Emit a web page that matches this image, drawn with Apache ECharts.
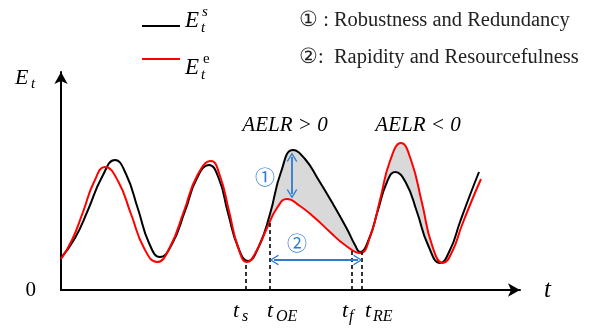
<!DOCTYPE html>
<html>
<head>
<meta charset="utf-8">
<script src="https://cdn.jsdelivr.net/npm/echarts@6/dist/echarts.min.js"></script>
<style>html,body{margin:0;background:#fff}#main{width:603px;height:328px}</style>
</head>
<body>
<div id="main"></div>
<script>
var SERIF = "'Liberation Serif', 'Times New Roman', serif";
var CIRC = "'Noto Sans CJK SC', 'DejaVu Sans', sans-serif";
var BLUE = '#2E7BCF';
var SMOOTH = 0.5;

// E_t^s (black): time and energy
var blackT = [0, 14, 27, 41, 54, 65, 77, 88, 99, 111, 124, 136, 148, 158, 167, 177, 187,
    198, 209, 220, 232, 244, 257, 272, 286, 294, 299, 308, 317, 326, 334, 345, 356, 367, 379,
    389, 399, 409, 418];
var blackE = [32, 52, 80, 113, 130, 116, 81, 47, 33, 46, 79, 112, 125, 111, 77, 43, 29,
    44, 76, 118, 140, 131, 111, 86, 61, 45, 38, 51, 80, 108, 118, 107, 78, 45, 27,
    40, 68, 95, 118];
// E_t^e (red)
var redT = [0, 11, 22, 33, 44, 57, 70, 83, 96, 109, 123, 136, 150, 159, 168, 177, 186,
    196, 206, 216, 226, 239, 254, 269, 284, 299, 309, 319, 329, 340, 350, 361, 371, 382,
    391, 401, 411, 420];
var redE = [31, 50, 78, 108, 123, 109, 76, 42, 28, 43, 79, 114, 129, 114, 79, 43, 28,
    40, 62, 82, 91, 84, 72, 58, 45, 37, 53, 90, 129, 147, 130, 87, 45, 27,
    38, 65, 90, 111];

// grey gaps: AELR > 0 (black over red), then AELR < 0 (red over black)
var gapOne = [209, 299];
var gapTwo = [309, 382];

// event times t_s, t_OE, t_f, t_RE and where their dashed guides stop
var eventT = [185, 209, 291, 301];
var eventTopE = [28, 70, 42, 38];

// arrows: (1) robustness gap, (2) rapidity span
var arrowOne = [[231, 133], [231, 96]];
var arrowTwo = [[213, 30], [297, 30]];

function zip(ts, es) { return ts.map(function (t, i) { return [t, es[i]]; }); }
var black = zip(blackT, blackE);
var red = zip(redT, redE);

// points of a curve inside [from, to], widened by `pad` neighbours
function part(pts, range, pad) {
    var i0 = pts.findIndex(function (p) { return p[0] >= range[0]; });
    var i1 = pts.length - 1;
    for (var k = pts.length - 1; k >= 0; k--) { if (pts[k][0] <= range[1]) { i1 = k; break; } }
    return pts.slice(Math.max(0, i0 - pad), Math.min(pts.length, i1 + 1 + pad));
}

function fill(pts, color, z) {
    return {
        type: 'line', smooth: SMOOTH, symbol: 'none', silent: true, z: z,
        lineStyle: { width: 0 },
        areaStyle: { color: color, opacity: 1, origin: 2 },
        emphasis: { disabled: true },
        data: pts
    };
}

function txt(x, y, s, size, o) {
    o = o || {};
    return {
        type: 'text', x: x, y: y, silent: true, z: 100,
        style: {
            text: s,
            fill: o.fill || '#000',
            font: (o.italic ? 'italic ' : '') + size + 'px ' + (o.family || SERIF),
            textAlign: o.align || 'left',
            textVerticalAlign: 'middle'
        }
    };
}

var chev = 'path://M0,12 L6,0 L12,12 L10.3,12 L6,3.2 L1.7,12 Z';

var chart = echarts.init(document.getElementById('main'));
chart.setOption({
    animation: false,
    backgroundColor: '#fff',
    grid: { left: 61, right: 83, top: 72, bottom: 38 },
    legend: {
        data: ['E_t^s', 'E_t^e'],
        orient: 'vertical',
        left: 137, top: 20,
        icon: 'rect',
        itemWidth: 38, itemHeight: 2,
        itemGap: 31,
        selectedMode: false,
        formatter: function () { return ''; },
        textStyle: { fontSize: 12, lineHeight: 12 }
    },
    xAxis: {
        type: 'value', min: 0, max: 459,
        axisLine: { lineStyle: { color: '#000', width: 2 }, symbol: ['none', 'arrow'], symbolSize: [10, 12] },
        axisTick: { show: false }, axisLabel: { show: false }, splitLine: { show: false },
        name: 't', nameLocation: 'end', nameGap: 24,
        nameTextStyle: { fontFamily: SERIF, fontStyle: 'italic', fontSize: 25, color: '#000' }
    },
    yAxis: {
        type: 'value', min: 0, max: 218, interval: 218,
        axisLine: { show: true, lineStyle: { color: '#000', width: 2 }, symbol: ['none', 'arrow'], symbolSize: [10, 12] },
        axisTick: { show: false }, splitLine: { show: false },
        axisLabel: {
            margin: 25, fontFamily: SERIF, fontSize: 21, color: '#000',
            formatter: function (v) { return v === 0 ? '0' : ''; }
        }
    },
    series: [
        fill(part(black, gapOne, 0), '#D9D9D9', 1),
        fill(part(red, gapTwo, 0), '#D9D9D9', 1),
        fill(part(red, gapOne, 1), '#FFFFFF', 2),
        fill(part(black, gapTwo, 1), '#FFFFFF', 2),
        {
            name: 'E_t^s', type: 'line', smooth: SMOOTH, symbol: 'none', z: 3,
            lineStyle: { color: '#000', width: 2 }, itemStyle: { color: '#000' },
            data: black,
            markLine: {
                silent: true, symbol: 'none', label: { show: false },
                lineStyle: { color: '#000', type: [4, 3], width: 1.6 },
                data: eventT.map(function (t, i) { return [{ coord: [t, 0] }, { coord: [t, eventTopE[i]] }]; })
            }
        },
        {
            name: 'E_t^e', type: 'line', smooth: SMOOTH, symbol: 'none', z: 4,
            lineStyle: { color: '#FF0000', width: 2 }, itemStyle: { color: '#FF0000' },
            data: red,
            markLine: {
                silent: true, symbol: [chev, chev], symbolSize: [11, 9], label: { show: false },
                lineStyle: { color: BLUE, type: 'solid', width: 1.8 },
                data: [
                    [{ coord: arrowOne[0] }, { coord: arrowOne[1] }],
                    [{ coord: arrowTwo[0] }, { coord: arrowTwo[1] }]
                ]
            }
        }
    ],
    graphic: [
        txt(15, 78, 'E', 22, { italic: true }),
        txt(31, 84, 't', 15, { italic: true }),

        txt(185, 21, 'E', 23, { italic: true }),
        txt(202, 12, 's', 15, { italic: true }),
        txt(201, 28, 't', 15, { italic: true }),
        txt(185, 68, 'E', 23, { italic: true }),
        txt(203, 59, 'e', 15),
        txt(201, 75, 't', 15, { italic: true }),

        txt(299, 21, '\u2460 : Robustness and Redundancy', 20.5, { fill: '#222' }),
        txt(299, 58, '\u2461:  Rapidity and Resourcefulness', 20.5, { fill: '#222' }),

        txt(285, 125, 'AELR > 0', 21, { italic: true, align: 'center' }),
        txt(418, 125, 'AELR < 0', 21, { italic: true, align: 'center' }),

        txt(265, 177, '\u2460', 20, { fill: BLUE, family: CIRC, align: 'center' }),
        txt(297, 243, '\u2461', 20, { fill: BLUE, family: CIRC, align: 'center' }),

        txt(233, 311, 't', 22, { italic: true }),
        txt(242, 317, 's', 16, { italic: true }),
        txt(267, 311, 't', 22, { italic: true }),
        txt(276, 317, 'OE', 16, { italic: true }),
        txt(342, 311, 't', 22, { italic: true }),
        txt(349, 317, 'f', 16, { italic: true }),
        txt(365, 311, 't', 22, { italic: true }),
        txt(373, 317, 'RE', 16, { italic: true })
    ]
});
</script>
</body>
</html>
